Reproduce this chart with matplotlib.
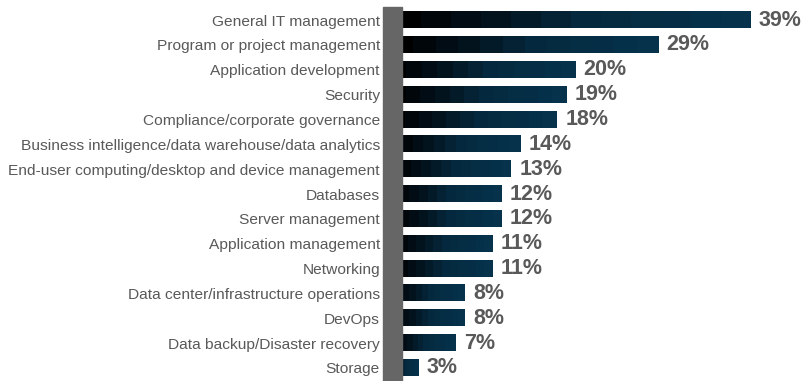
import numpy as np
import matplotlib
matplotlib.use("Agg")
import matplotlib.pyplot as plt
from matplotlib.colors import LinearSegmentedColormap
from matplotlib.patches import Rectangle

plt.rcParams['font.family'] = ['Liberation Sans', 'DejaVu Sans']

categories = [
    "General IT management",
    "Program or project management",
    "Application development",
    "Security",
    "Compliance/corporate governance",
    "Business intelligence/data warehouse/data analytics",
    "End-user computing/desktop and device management",
    "Databases",
    "Server management",
    "Application management",
    "Networking",
    "Data center/infrastructure operations",
    "DevOps",
    "Data backup/Disaster recovery",
    "Storage",
]
values = [39, 29, 20, 19, 18, 14, 13, 12, 12, 11, 11, 8, 8, 7, 3]

W, H = 806, 381
fig = plt.figure(figsize=(W / 100, H / 100), dpi=100)

# axes: x=0 at 391px, ~9.22 px per percent
x0 = 391
ppu = 9.22
xmax = 45
ax = fig.add_axes([x0 / W, 0.6 / H, xmax * ppu / W, (380.4 - 7.6) / H])

cmap = LinearSegmentedColormap.from_list(
    "bar", [(0, "#000000"), (0.25, "#03121c"), (0.55, "#052a3f"), (1, "#06324c")])
grad = np.linspace(0, 1, 12).reshape(1, -1)
bh = 0.65
for i, v in enumerate(values):
    ax.imshow(grad, cmap=cmap, aspect='auto', interpolation='nearest',
              extent=[0, v, i + bh / 2, i - bh / 2], zorder=2)
    ax.annotate(f"{v}%", (v, i), xytext=(6, 0), textcoords='offset points',
                ha='left', va='center', fontsize=15.5, fontweight='bold',
                color='#595959')
ax.set_xlim(0, xmax)
ax.set_ylim(len(values) - 0.5, -0.5)

ax.set_yticks(range(len(categories)))
ax.set_yticklabels(categories, fontsize=11.15, color='#595959')
ax.tick_params(axis='y', length=0, pad=8)
ax.set_xticks([])
for s in ax.spines.values():
    s.set_visible(False)

# grey axis bar
fig.patches.append(Rectangle((383 / W, 0), 19 / W, (H - 7) / H,
                             transform=fig.transFigure, color='#666666',
                             zorder=5))

fig.savefig("out.png", dpi=100)
